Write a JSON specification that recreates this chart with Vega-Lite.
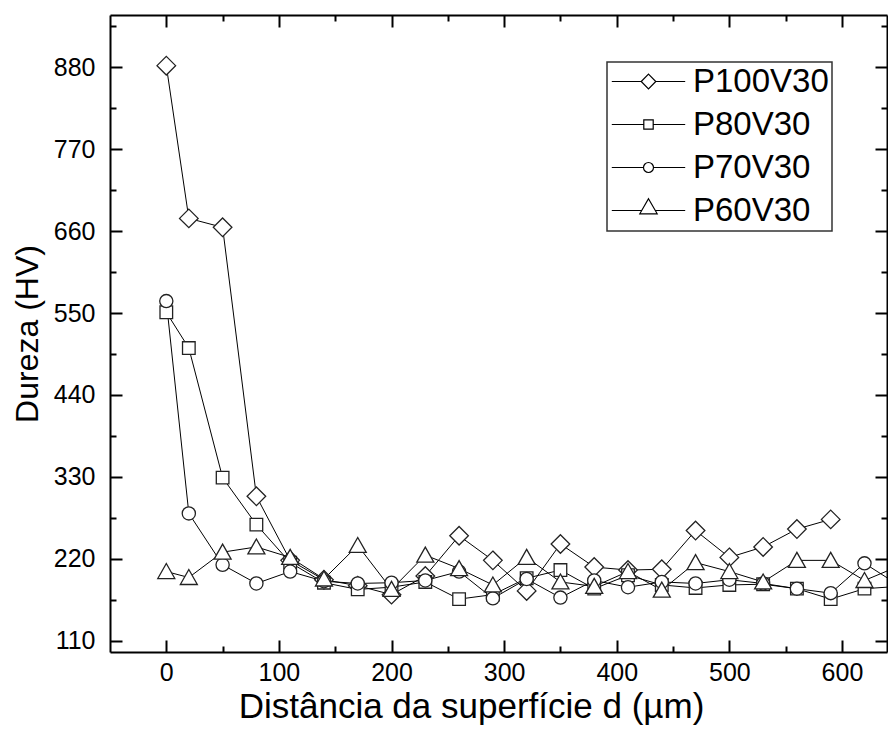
{
  "$schema": "https://vega.github.io/schema/vega-lite/v6.json",
  "width": 777,
  "height": 637,
  "autosize": "none",
  "padding": {"left": 110, "top": 15, "right": 1, "bottom": 95},
  "background": "white",
  "config": {
    "font": "Liberation Sans",
    "view": {"stroke": null},
    "legend": {"strokeColor": "#333", "strokeWidth": 1.5},
    "axis": {
      "domainColor": "black", "domainWidth": 2, "tickColor": "black", "tickWidth": 2,
      "labelColor": "black", "titleColor": "black", "grid": false,
      "labelFont": "Liberation Sans", "titleFont": "Liberation Sans", "titleFontWeight": "normal",
      "labelFontSize": 25, "titleFontSize": 35
    }
  },
  "datasets": {
    "hv": [
      {"s": "P100V30", "d": 0, "v": 882}, {"s": "P100V30", "d": 20, "v": 677}, {"s": "P100V30", "d": 50, "v": 665},
      {"s": "P100V30", "d": 80, "v": 304}, {"s": "P100V30", "d": 110, "v": 218}, {"s": "P100V30", "d": 140, "v": 192},
      {"s": "P100V30", "d": 170, "v": 184}, {"s": "P100V30", "d": 200, "v": 172}, {"s": "P100V30", "d": 230, "v": 197},
      {"s": "P100V30", "d": 260, "v": 251}, {"s": "P100V30", "d": 290, "v": 218}, {"s": "P100V30", "d": 320, "v": 177},
      {"s": "P100V30", "d": 350, "v": 240}, {"s": "P100V30", "d": 380, "v": 209}, {"s": "P100V30", "d": 410, "v": 205},
      {"s": "P100V30", "d": 440, "v": 206}, {"s": "P100V30", "d": 470, "v": 258}, {"s": "P100V30", "d": 500, "v": 222},
      {"s": "P100V30", "d": 530, "v": 236}, {"s": "P100V30", "d": 560, "v": 260}, {"s": "P100V30", "d": 590, "v": 273},

      {"s": "P80V30", "d": 0, "v": 551}, {"s": "P80V30", "d": 20, "v": 503}, {"s": "P80V30", "d": 50, "v": 329},
      {"s": "P80V30", "d": 80, "v": 266}, {"s": "P80V30", "d": 110, "v": 215}, {"s": "P80V30", "d": 140, "v": 188},
      {"s": "P80V30", "d": 170, "v": 179}, {"s": "P80V30", "d": 200, "v": 182}, {"s": "P80V30", "d": 230, "v": 189},
      {"s": "P80V30", "d": 260, "v": 166}, {"s": "P80V30", "d": 290, "v": 172}, {"s": "P80V30", "d": 320, "v": 194},
      {"s": "P80V30", "d": 350, "v": 205}, {"s": "P80V30", "d": 380, "v": 180}, {"s": "P80V30", "d": 410, "v": 198},
      {"s": "P80V30", "d": 440, "v": 185}, {"s": "P80V30", "d": 470, "v": 181}, {"s": "P80V30", "d": 500, "v": 185},
      {"s": "P80V30", "d": 530, "v": 186}, {"s": "P80V30", "d": 560, "v": 180}, {"s": "P80V30", "d": 590, "v": 166},
      {"s": "P80V30", "d": 620, "v": 180}, {"s": "P80V30", "d": 650, "v": 183},

      {"s": "P70V30", "d": 0, "v": 566}, {"s": "P70V30", "d": 20, "v": 281}, {"s": "P70V30", "d": 50, "v": 212},
      {"s": "P70V30", "d": 80, "v": 187}, {"s": "P70V30", "d": 110, "v": 203}, {"s": "P70V30", "d": 140, "v": 190},
      {"s": "P70V30", "d": 170, "v": 187}, {"s": "P70V30", "d": 200, "v": 188}, {"s": "P70V30", "d": 230, "v": 191},
      {"s": "P70V30", "d": 260, "v": 203}, {"s": "P70V30", "d": 290, "v": 167}, {"s": "P70V30", "d": 320, "v": 193},
      {"s": "P70V30", "d": 350, "v": 168}, {"s": "P70V30", "d": 380, "v": 191}, {"s": "P70V30", "d": 410, "v": 182},
      {"s": "P70V30", "d": 440, "v": 189}, {"s": "P70V30", "d": 470, "v": 187}, {"s": "P70V30", "d": 500, "v": 192},
      {"s": "P70V30", "d": 530, "v": 187}, {"s": "P70V30", "d": 560, "v": 180}, {"s": "P70V30", "d": 590, "v": 174},
      {"s": "P70V30", "d": 620, "v": 214}, {"s": "P70V30", "d": 650, "v": 185},

      {"s": "P60V30", "d": 0, "v": 203}, {"s": "P60V30", "d": 20, "v": 195}, {"s": "P60V30", "d": 50, "v": 229},
      {"s": "P60V30", "d": 80, "v": 236}, {"s": "P60V30", "d": 110, "v": 222}, {"s": "P60V30", "d": 140, "v": 193},
      {"s": "P60V30", "d": 170, "v": 238}, {"s": "P60V30", "d": 200, "v": 179}, {"s": "P60V30", "d": 230, "v": 225},
      {"s": "P60V30", "d": 260, "v": 207}, {"s": "P60V30", "d": 290, "v": 185}, {"s": "P60V30", "d": 320, "v": 222},
      {"s": "P60V30", "d": 350, "v": 189}, {"s": "P60V30", "d": 380, "v": 183}, {"s": "P60V30", "d": 410, "v": 203},
      {"s": "P60V30", "d": 440, "v": 178}, {"s": "P60V30", "d": 470, "v": 215}, {"s": "P60V30", "d": 500, "v": 203},
      {"s": "P60V30", "d": 530, "v": 189}, {"s": "P60V30", "d": 560, "v": 218}, {"s": "P60V30", "d": 590, "v": 218},
      {"s": "P60V30", "d": 620, "v": 191}, {"s": "P60V30", "d": 650, "v": 210}
    ]
  },
  "data": {"name": "hv"},
  "resolve": {"axis": {"x": "independent", "y": "independent"}, "scale": {"shape": "independent"}},
  "layer": [
    {
      "mark": {"type": "line", "color": "black", "strokeWidth": 1, "clip": true},
      "encoding": {
        "x": {"field": "d", "type": "quantitative", "scale": {"domain": [-50, 640], "nice": false, "zero": false},
          "axis": {"orient": "bottom", "values": [0, 100, 200, 300, 400, 500, 600], "tickSize": -12, "labelPadding": 20,
            "title": "Distância da superfície d (µm)", "titleX": 361, "titleY": 65, "titleBaseline": "alphabetic"}},
        "y": {"field": "v", "type": "quantitative", "scale": {"domain": [95, 950], "nice": false, "zero": false},
          "axis": {"orient": "left", "values": [110, 220, 330, 440, 550, 660, 770, 880], "tickSize": -12, "labelPadding": 27,
            "title": "Dureza (HV)", "titleFontSize": 32, "titleX": -83, "titleBaseline": "middle"}},
        "detail": {"field": "s"}
      }
    },
    {
      "mark": {"type": "point", "filled": true, "fill": "white", "stroke": "#222", "strokeWidth": 1.3, "opacity": 1, "size": 400, "clip": true},
      "encoding": {
        "x": {"field": "d", "type": "quantitative", "scale": {"domain": [-50, 640], "nice": false, "zero": false},
          "axis": {"orient": "top", "values": [0, 100, 200, 300, 400, 500, 600], "tickSize": -12, "labels": false, "title": null}},
        "y": {"field": "v", "type": "quantitative", "scale": {"domain": [95, 950], "nice": false, "zero": false},
          "axis": {"orient": "right", "values": [110, 220, 330, 440, 550, 660, 770, 880], "tickSize": -12, "labels": false, "title": null}},
        "shape": {"field": "s", "type": "nominal",
          "scale": {"domain": ["P100V30", "P80V30", "P70V30", "P60V30"],
            "range": ["M0,-0.93L0.93,0L0,0.93L-0.93,0Z", "M-0.63,-0.63L0.63,-0.63L0.63,0.63L-0.63,0.63Z",
              "M0.66,0A0.66,0.66,0,1,1,-0.66,0A0.66,0.66,0,1,1,0.66,0Z", "M0,-0.8L0.85,0.7L-0.85,0.7Z"]},
          "legend": null}
      }
    },
    {
      "transform": [{"filter": "datum.d < -1000"}],
      "mark": {"type": "point", "filled": false, "color": "black", "stroke": "black", "strokeWidth": 1.2, "opacity": 1, "size": 400},
      "encoding": {
        "x": {"field": "d", "type": "quantitative", "scale": {"domain": [-50, 640], "nice": false, "zero": false},
          "axis": {"orient": "bottom", "values": [50, 150, 250, 350, 450, 550], "tickSize": -6, "labels": false, "title": null, "domain": false}},
        "y": {"field": "v", "type": "quantitative", "scale": {"domain": [95, 950], "nice": false, "zero": false},
          "axis": {"orient": "left", "values": [165, 275, 385, 495, 605, 715, 825, 935], "tickSize": -6, "labels": false, "title": null, "domain": false}},
        "shape": {"field": "s", "type": "nominal",
          "scale": {"domain": ["P100V30", "P80V30", "P70V30", "P60V30"],
            "range": ["M-3.67,0L-0.73,0M0.73,0L3.67,0M0,-0.73L0.73,0L0,0.73L-0.73,0Z",
              "M-3.67,0L-0.47,0M0.47,0L3.67,0M-0.47,-0.47L0.47,-0.47L0.47,0.47L-0.47,0.47Z",
              "M-3.67,0L-0.5,0M0.5,0L3.67,0M0.5,0A0.5,0.5,0,1,1,-0.5,0A0.5,0.5,0,1,1,0.5,0Z",
              "M-3.67,0L-0.68,0M0.68,0L3.67,0M0,-1.17L0.87,0.33L-0.87,0.33Z"]},
          "legend": {"orient": "none", "legendX": 497, "legendY": 47, "title": null,
            "labelFontSize": 33, "labelFont": "Liberation Sans", "labelColor": "black",
            "symbolSize": 400, "symbolStrokeColor": "black", "symbolStrokeWidth": 1.2, "symbolOpacity": 1,
            "symbolOffset": 22, "labelOffset": 28, "rowPadding": 9, "padding": 3,
            "strokeColor": "#333", "fillColor": "white"}}
      }
    },
    {
      "transform": [{"filter": "datum.d < -1000"}],
      "mark": {"type": "point", "filled": true, "size": 10},
      "encoding": {
        "x": {"field": "d", "type": "quantitative", "scale": {"domain": [-50, 640], "nice": false, "zero": false},
          "axis": {"orient": "top", "values": [50, 150, 250, 350, 450, 550], "tickSize": -6, "labels": false, "title": null, "domain": false}},
        "y": {"field": "v", "type": "quantitative", "scale": {"domain": [95, 950], "nice": false, "zero": false},
          "axis": {"orient": "right", "values": [165, 275, 385, 495, 605, 715, 825, 935], "tickSize": -6, "labels": false, "title": null, "domain": false}}
      }
    }
  ]
}
